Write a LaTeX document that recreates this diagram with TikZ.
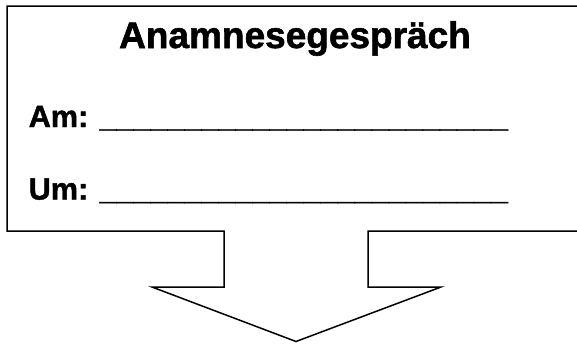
\documentclass[tikz,border=0pt]{standalone}
\usepackage{fontspec}
\setmainfont{Liberation Sans}[BoldFeatures={FakeBold=1.5}]
\usepackage{tikz}
\usetikzlibrary{positioning}

\newcommand{\luecke}{\_\_\_\_\_\_\_\_\_\_\_\_\_\_\_\_\_\_\_\_\_\_\_\_}

\begin{document}
\begin{tikzpicture}[x=1pt, y=-1pt, line width=1.5pt,
    titel/.style={inner sep=0pt, anchor=base, font=\fontsize{37}{40}\selectfont\bfseries},
    feld/.style={inner sep=0pt, anchor=base west, font=\fontsize{30.6}{36}\selectfont\bfseries}]
  \useasboundingbox (0,0) rectangle (577,343);
  % Kasten mit Pfeil nach unten
  \draw[line join=miter] (590,6) -- (7,6) -- (7,231) -- (224,231) -- (224,287)
        -- (152,287) -- (296,341.5) -- (441,287) -- (368,287) -- (368,231) -- (590,231);
  \node[titel] (titel) at (295,48)    {Anamnesegespräch};
  \node[feld]  (am)    at (28,127)    {Am: \luecke};
  \node[feld]  (um)    at (28,199.5)  {Um: \luecke};
\end{tikzpicture}
\end{document}
